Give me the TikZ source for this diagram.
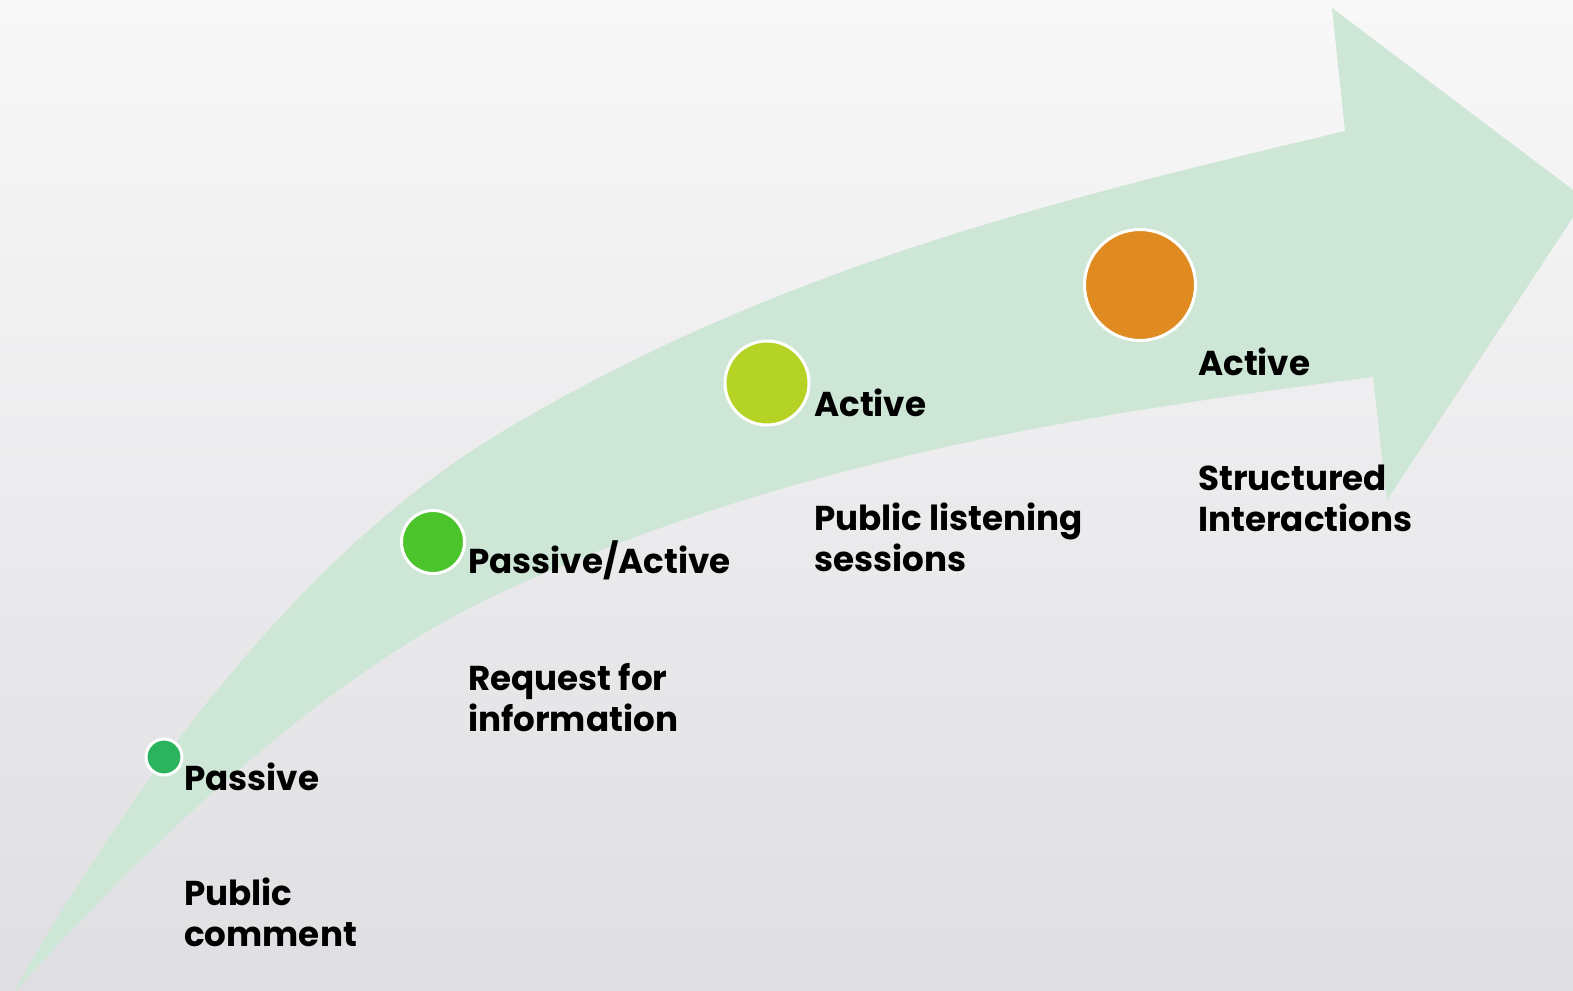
\documentclass[tikz,border=0pt]{standalone}
\usepackage{fontspec}
\setmainfont{Poppins}[FakeStretch=0.99]
\usetikzlibrary{positioning}

\definecolor{bgtop}{RGB}{248,248,248}
\definecolor{bgbot}{RGB}{223,223,227}
\definecolor{band}{RGB}{205,230,213}
\definecolor{stepA}{RGB}{43,179,94}
\definecolor{stepB}{RGB}{76,196,44}
\definecolor{stepC}{RGB}{181,211,36}
\definecolor{stepD}{RGB}{224,138,34}

\begin{document}
\begin{tikzpicture}[x=1pt, y=-1pt,
    dot/.style = {circle, draw=white, line width=3pt, inner sep=0pt},
    tag/.style = {anchor=base west, inner sep=0pt, align=left,
      font=\fontsize{34.5}{41}\selectfont\bfseries}
    ]
    \useasboundingbox (0,0) rectangle (1573,990);
    \clip (0,0) rectangle (1573,990);
    \shade[top color=bgtop, bottom color=bgbot] (0,0) rectangle (1573,990);

    % the rising arrow
    \fill[band] (12,995)
      .. controls (172,713) and (340,529) .. (500,433)
      .. controls (780,265) and (1065,198) .. (1345,131)
      -- (1332,8) -- (1585,199) -- (1387,500) -- (1373,377)
      .. controls (1083,414) and (790,460) .. (500,593)
      .. controls (340,667) and (172,817) .. (12,995)
      -- cycle;

    % steps along the arrow
    \node[dot, fill=stepA, minimum size=36pt]  (pass)   at (164,757) {};
    \node[dot, fill=stepB, minimum size=63pt]  (mixed)  at (433,542) {};
    \node[dot, fill=stepC, minimum size=84pt]  (act)    at (767,383) {};
    \node[dot, fill=stepD, minimum size=111pt] (inter)  at (1140,285) {};

    \node[tag] (passT)  at (184,790) {Passive};
    \node[tag] (passN)  at (184,946) {Public\\comment};
    \node[tag] (mixedT) at (468,573) {Passive/Active};
    \node[tag] (mixedN) at (468,731) {Request for\\information};
    \node[tag] (actT)   at (814,416) {Active};
    \node[tag] (actN)   at (814,571) {Public listening\\sessions};
    \node[tag] (interT) at (1198,375) {Active};
    \node[tag] (interN) at (1198,531) {Structured\\Interactions};
\end{tikzpicture}
\end{document}
